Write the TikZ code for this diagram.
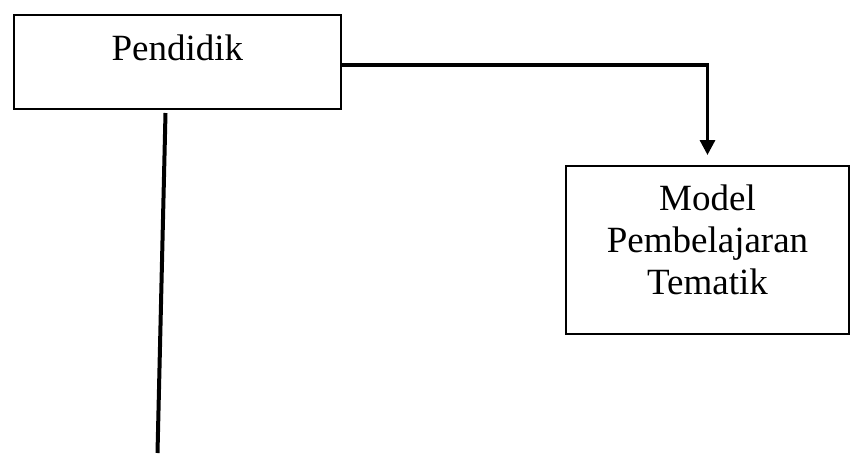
\documentclass[tikz,border=0pt]{standalone}
\usepackage{fontspec}
\setmainfont{Liberation Serif}
\usetikzlibrary{arrows.meta}

\begin{document}
\begin{tikzpicture}[x=1pt, y=-1pt, line cap=butt, line join=miter,
  kotak/.style={draw, line width=1.6pt, inner sep=0pt, align=center,
    font=\fontsize{37}{42}\selectfont},
  panah/.style={line width=3.2pt, -{Triangle[width=15pt,length=15pt]}, shorten >=10pt}]

  %% ════ kotak ════
  \node[kotak, anchor=north west, minimum width=327pt, text height=46pt, text depth=48pt]
    (pendidik) at (13.0,14.0) {Pendidik};
  \node[kotak, anchor=north, minimum width=283pt, text height=129pt, text depth=39pt]
    (model) at (707.5,165.0) {Model\\Pembelajaran\\Tematik};

  %% ════ titik bantu ════
  \coordinate (belok) at (707.0,65.0);
  \coordinate (garisatas) at (165.5,113.0);
  \coordinate (garisbawah) at (157.5,453.0);

  %% ════ garis ════
  \draw[panah] (pendidik.east |- belok) -| (model.north);
  \draw[line width=4.0pt] (garisatas) -- (garisbawah);

  % kanvas 1:1
  \pgfresetboundingbox
  \path[use as bounding box] (0,0) rectangle (863,453);
\end{tikzpicture}
\end{document}
